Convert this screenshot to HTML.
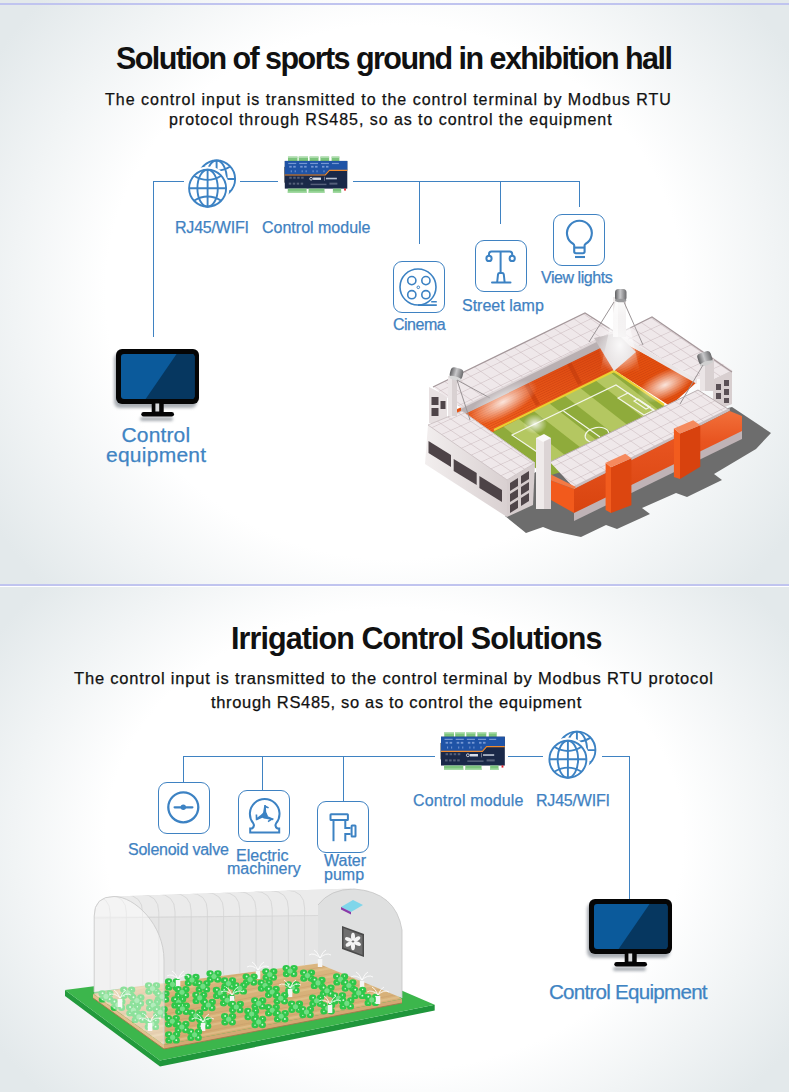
<!DOCTYPE html>
<html><head><meta charset="utf-8">
<style>
html,body{margin:0;padding:0;}
body{width:790px;height:1092px;position:relative;overflow:hidden;background:#fff;font-family:"Liberation Sans",sans-serif;}
.sec{position:absolute;left:0;width:789px;}
#s1{top:0;height:584px;background:radial-gradient(ellipse 60% 75% at 50% 50%,#ffffff 0%,#ffffff 61%,#e3e9eb 100%);}
#s2{top:587px;height:505px;background:radial-gradient(ellipse 60% 75% at 50% 50%,#ffffff 0%,#ffffff 61%,#e3e9eb 100%);}
.hl{position:absolute;left:0;width:789px;height:2px;background:#c0c4ef;}
.t{position:absolute;white-space:nowrap;line-height:1;}
.title{font-weight:700;font-size:30.5px;color:#111;}
.sub{font-size:16px;color:#111;-webkit-text-stroke:0.25px #111;}
.lbl{font-size:16px;color:#3f82c2;-webkit-text-stroke:0.25px #3f82c2;}
.big{font-size:19px;color:#3f84c3;-webkit-text-stroke:0.25px #3f84c3;}
.ln{position:absolute;background:#3f82c2;}
.box{position:absolute;width:50px;height:50px;border:1px solid #3f82c2;border-radius:9px;}
svg{position:absolute;overflow:visible;}
</style></head>
<body>
<div id="s1" class="sec"></div>

<svg width="0" height="0" style="position:absolute">
<defs>
<g id="globe1" fill="none" stroke="#3c82c3" stroke-width="1.9">
  <circle cx="0" cy="0" r="18.5"/>
  <line x1="0" y1="-18.5" x2="0" y2="18.5"/>
  <ellipse cx="0" cy="0" rx="10.2" ry="18.5"/>
  <line x1="-18.5" y1="0" x2="18.5" y2="0"/>
  <path d="M-13.7,-12.5 Q0,-4.2 13.7,-12.5"/>
  <path d="M-13.7,12.5 Q0,4.2 13.7,12.5"/>
</g>
<mask id="gm" maskUnits="userSpaceOnUse" x="-30" y="-40" width="80" height="80">
  <rect x="-30" y="-40" width="80" height="80" fill="#fff"/>
  <circle cx="0" cy="0" r="21.8" fill="#000"/>
</mask>
<g id="globe2">
  <g mask="url(#gm)"><use href="#globe1" transform="translate(9,-9.2)"/></g>
  <use href="#globe1"/>
</g>
<g id="monitor">
  <rect x="0" y="0" width="83" height="55" rx="6" fill="#050505"/>
  <clipPath id="scr"><rect x="5" y="5" width="73.5" height="45" rx="3"/></clipPath>
  <g clip-path="url(#scr)">
    <rect x="0" y="0" width="83" height="55" fill="#0b5a9b"/>
    <polygon points="64,0 90,0 90,55 26.2,55" fill="#063760"/>
  </g>
  <rect x="35.7" y="54" width="12" height="9" fill="#050505"/>
  <rect x="39.4" y="54.5" width="3.8" height="8" fill="#d8dadc"/>
  <rect x="25.3" y="63" width="32.7" height="4.6" rx="2.3" fill="#050505"/>
</g>
<g id="module">
  <!-- top terminals -->
  <g fill="#7cc47c">
    <rect x="3.2" y="-4.4" width="9.6" height="4.6"/>
    <rect x="14" y="-4.4" width="9.4" height="4.6"/>
    <rect x="25" y="-4.4" width="9" height="4.6"/>
    <rect x="35.9" y="-4.4" width="8.8" height="4.6"/>
    <rect x="47.2" y="-4.4" width="7.8" height="4.6"/>
  </g>
  <g fill="#b8e2b8">
    <rect x="3.2" y="-4.4" width="9.6" height="1.3"/>
    <rect x="14" y="-4.4" width="9.4" height="1.3"/>
    <rect x="25" y="-4.4" width="9" height="1.3"/>
    <rect x="35.9" y="-4.4" width="8.8" height="1.3"/>
    <rect x="47.2" y="-4.4" width="7.8" height="1.3"/>
  </g>
  <rect x="-0.8" y="6" width="1.6" height="16" fill="#8a8a8a"/>
  <rect x="0" y="0" width="63" height="28" fill="#1a2848"/>
  <polygon points="0,0 63,0 63,9.2 44.7,9.2 40.5,13.8 0,13.8" fill="#1f53a6"/>
  <polyline points="0,14.2 40.8,14.2 45,9.6 63,9.6" fill="none" stroke="#ee8a2e" stroke-width="1.1"/>
  <g fill="#7f9fd8" opacity="0.9">
    <rect x="3.5" y="2" width="8" height="1.2"/><rect x="14.5" y="2" width="8" height="1.2"/>
    <rect x="25.5" y="2" width="8" height="1.2"/><rect x="36.5" y="2" width="8" height="1.2"/>
    <rect x="47.5" y="2" width="7" height="1.2"/>
    <rect x="4.5" y="5" width="2.5" height="1.8"/><rect x="8.5" y="5" width="2.5" height="1.8"/>
    <rect x="15.5" y="5" width="2.5" height="1.8"/><rect x="19.5" y="5" width="2.5" height="1.8"/>
    <rect x="26.5" y="5" width="2.5" height="1.8"/><rect x="30.5" y="5" width="2.5" height="1.8"/>
    <rect x="37.5" y="5" width="2.5" height="1.8"/><rect x="41.5" y="5" width="2.5" height="1.8"/>
    <rect x="6" y="9.5" width="1" height="2"/><rect x="10" y="9.5" width="1" height="2"/>
    <rect x="17" y="9.5" width="1" height="2"/><rect x="21" y="9.5" width="1" height="2"/>
    <rect x="28" y="9.5" width="1" height="2"/><rect x="32" y="9.5" width="1" height="2"/>
    <rect x="39" y="9.5" width="1" height="2"/>
  </g>
  <g fill="#55607a">
    <rect x="4.5" y="16" width="2.5" height="2"/><rect x="8.5" y="16" width="2.5" height="2"/>
    <rect x="12.5" y="16" width="2.5" height="2"/><rect x="16.5" y="16" width="2.5" height="2"/>
    <rect x="4" y="22" width="2.5" height="2"/><rect x="8" y="22" width="2.5" height="2"/>
    <rect x="12" y="22" width="2.5" height="2"/><rect x="16" y="22" width="2.5" height="2"/>
    <rect x="26" y="23" width="16" height="1.5"/><rect x="45" y="22" width="8" height="2"/>
  </g>
  <circle cx="26.5" cy="18" r="1.4" fill="none" stroke="#e6e9f0" stroke-width="0.8"/>
  <rect x="28.5" y="16.8" width="8" height="2.4" fill="#d8dde8"/>
  <rect x="39.5" y="16" width="0.6" height="4" fill="#aab"/>
  <rect x="41.5" y="17" width="11" height="1.6" fill="#b8c0d0"/>
  <g fill="#7cc47c">
    <rect x="3" y="28" width="19" height="4.3"/>
    <rect x="24" y="28" width="16" height="4.3"/>
    <rect x="48.5" y="28" width="8.3" height="4.3"/>
  </g>
  <g fill="#a6dca6">
    <rect x="3" y="30.8" width="19" height="1.5"/>
    <rect x="24" y="30.8" width="16" height="1.5"/>
    <rect x="48.5" y="30.8" width="8.3" height="1.5"/>
  </g>
  <rect x="59.8" y="27.8" width="1.8" height="2.2" fill="#e0202a"/>
</g>
<filter id="blur2" x="-20%" y="-20%" width="140%" height="140%"><feGaussianBlur stdDeviation="1.8"/></filter>
</defs>
</svg>

<div id="s2" class="sec"></div>
<div class="hl" style="top:3px"></div>
<div class="hl" style="top:584px"></div>

<!-- Section 1 text -->
<div class="t title" id="ti1" style="left:116px;top:43px;letter-spacing:-1.55px">Solution of sports ground in exhibition hall</div>
<div class="t sub" id="su1a" style="left:105px;top:92px;letter-spacing:1.0px">The control input is transmitted to the control terminal by Modbus RTU</div>
<div class="t sub" id="su1b" style="left:169px;top:112px;letter-spacing:0.95px">protocol through RS485, so as to control the equipment</div>

<!-- Section 1 lines -->
<div class="ln" style="left:153px;top:181px;width:31px;height:1px"></div>
<div class="ln" style="left:240px;top:181px;width:38px;height:1px"></div>
<div class="ln" style="left:353px;top:181px;width:227px;height:1px"></div>
<div class="ln" style="left:153px;top:181px;width:1px;height:156px"></div>
<div class="ln" style="left:419px;top:181px;width:1px;height:63px"></div>
<div class="ln" style="left:500px;top:181px;width:1px;height:43px"></div>
<div class="ln" style="left:579px;top:181px;width:1px;height:26px"></div>

<!-- Section 1 labels -->
<div class="t lbl" style="left:175px;top:220px;letter-spacing:-0.2px">RJ45/WIFI</div>
<div class="t lbl" style="left:262px;top:220px">Control module</div>
<div class="t lbl" style="left:393px;top:317px;letter-spacing:-0.5px">Cinema</div>
<div class="t lbl" style="left:462px;top:298px">Street lamp</div>
<div class="t lbl" style="left:541px;top:270px;letter-spacing:-0.45px">View lights</div>
<div class="t big" style="left:121.5px;top:424px;font-size:21px;letter-spacing:0.15px">Control</div>
<div class="t big" style="left:106px;top:444px;font-size:21px;letter-spacing:0.25px">equipment</div>

<!-- Section 1 boxes -->
<div class="box" style="left:393px;top:261px"></div>
<div class="box" style="left:475px;top:240px"></div>
<div class="box" style="left:553px;top:214px"></div>


<!-- globes -->
<svg style="left:0;top:0" width="790" height="1092">
  <use href="#globe2" transform="translate(207.6,188.2)"/>
  <use href="#globe2" transform="translate(567.9,759.3)"/>
  <!-- monitors shadows -->
  <g filter="url(#blur2)" fill="#8e949c" opacity="0.75">
    <rect x="114" y="353" width="83" height="55" rx="6"/>
    <rect x="140" y="417" width="33" height="4" rx="2"/>
    <rect x="587" y="903" width="83" height="55" rx="6"/>
    <rect x="613" y="967" width="33" height="4" rx="2"/>
  </g>
  <use href="#monitor" transform="translate(116,349)"/>
  <use href="#monitor" transform="translate(589,899)"/>
  <use href="#module" transform="translate(284.8,160.9) scale(0.992,0.99)"/>
  <use href="#module" transform="translate(441,736.7) scale(1.013,1.03)"/>
</svg>

<!-- box icons -->
<svg style="left:393px;top:261px" width="52" height="52" fill="none" stroke="#3c82c3">
  <circle cx="25" cy="26" r="18" stroke-width="1.6"/>
  <circle cx="18.8" cy="19.6" r="4.1" stroke-width="1.6"/>
  <circle cx="32.9" cy="19.6" r="4.1" stroke-width="1.6"/>
  <circle cx="18.8" cy="33.7" r="4.1" stroke-width="1.6"/>
  <circle cx="32.9" cy="33.7" r="4.1" stroke-width="1.6"/>
  <circle cx="25.3" cy="26.3" r="1.3" stroke-width="1"/>
  <path d="M38.2,40.8 H43.8 M25,44.1 H43.8" stroke-width="1.6"/>
</svg>
<svg style="left:475px;top:240px" width="52" height="52" fill="none" stroke="#3c82c3" stroke-width="2">
  <path d="M14,15.6 V14 Q14,11.5 16.5,11.5 H34.7 Q37.2,11.5 37.2,14 V15.6"/>
  <circle cx="14" cy="18.4" r="2.6"/>
  <circle cx="37.2" cy="18.4" r="2.6"/>
  <path d="M25.6,11.5 V33"/>
  <path d="M22.2,42 L23,34.5 Q23.2,33 24.6,33 H27.2 Q28.6,33 28.8,34.5 L29.6,42" />
  <path d="M17,42.6 H35.5" stroke-linecap="round"/>
</svg>
<svg style="left:553px;top:214px" width="52" height="52" fill="none" stroke="#3c82c3" stroke-width="2.1">
  <path d="M21.2,37.5 V31.5 Q21.2,30.6 20.4,30 A12.4,12.4 0 1 1 32.4,30 Q31.6,30.6 31.6,31.5 V37.5 Q31.6,39.2 29.9,39.2 H22.9 Q21.2,39.2 21.2,37.5 Z"/>
  <path d="M21.2,33.6 H31.6"/>
  <path d="M22,43 H32"/>
</svg>
<svg style="left:158px;top:782px" width="52" height="52" fill="none" stroke="#3c82c3">
  <circle cx="25.3" cy="25.3" r="15" stroke-width="2.3"/>
  <path d="M16.6,25.3 H34.4" stroke-width="2.2" stroke-linecap="round"/>
  <circle cx="25.3" cy="25.3" r="2.7" fill="#3c82c3" stroke="none"/>
</svg>
<svg style="left:238px;top:790px" width="52" height="52" fill="none" stroke="#3c82c3" stroke-width="2">
  <path d="M15.2,33.2 A14.8,14.8 0 1 1 38.2,33.2 Q36.2,36.4 39.6,38.6 H41.2 V42.4 H12.2 V38.6 H13.8 Q17.2,36.4 15.2,33.2 Z"/>
  <g fill="#3c82c3" stroke="none">
    <path d="M26.3,15 L27.8,15 L28.2,22 L30,26.2 L23.6,26.8 L25.2,22 Z"/>
    <path d="M26.5,15 L31,17.3 L30.2,18.6 L27.4,17.6 Z"/>
    <path d="M24,24 L18,28.4 L18.4,30.4 L26,27 Z"/>
    <path d="M17.6,24.4 L19.2,24.4 L19.6,29.6 L17.8,30.2 Z"/>
    <path d="M27,25 L35.7,28.8 L35,30.3 L26.4,28.4 Z"/>
    <path d="M35.7,28.8 L30.4,32.3 L29.6,31 L33,28.6 Z"/>
    <circle cx="26.4" cy="25.6" r="2.8"/>
  </g>
</svg>
<svg style="left:317px;top:801px" width="52" height="52" fill="none" stroke="#3c82c3" stroke-width="2">
  <rect x="13.5" y="13.2" width="17.4" height="5.9" rx="0.6"/>
  <path d="M16.5,20 V40.2"/>
  <path d="M28.3,20 V27 H33.6 M33.6,32.9 H28.3 V40.2"/>
  <rect x="34.6" y="24.4" width="3.9" height="11.1" rx="0.5"/>
</svg>

<!-- STADIUM -->
<svg style="left:0;top:0" width="790" height="590">
<defs>
  <clipPath id="fieldclip"><polygon points="614,371 700,430 548,476 485,436"/></clipPath>
  <linearGradient id="orgSeat" x1="0" y1="0" x2="0" y2="1">
    <stop offset="0" stop-color="#d8440e"/><stop offset="1" stop-color="#f2621f"/>
  </linearGradient>
  <pattern id="seatlines" width="6" height="2.2" patternUnits="userSpaceOnUse" patternTransform="rotate(-26)">
    <rect width="6" height="2.2" fill="none"/><rect y="1.5" width="6" height="0.6" fill="#b83208" opacity="0.45"/>
  </pattern>
  <linearGradient id="bandFace" x1="0" y1="0" x2="1" y2="0">
    <stop offset="0" stop-color="#e44e14"/><stop offset="1" stop-color="#d2400c"/>
  </linearGradient>
  <linearGradient id="swFace" x1="0" y1="0" x2="1" y2="0">
    <stop offset="0" stop-color="#f2eeee"/><stop offset="1" stop-color="#d9d0d1"/>
  </linearGradient>
  <pattern id="roofgrid" width="10" height="10" patternUnits="userSpaceOnUse" patternTransform="matrix(1,-0.478,1,0.7,0,0)">
    <rect width="10" height="10" fill="#efe8ea"/>
    <path d="M0,0 H10 M0,0 V10" stroke="#c6b4b8" stroke-width="0.8" fill="none"/>
  </pattern>
  <pattern id="roofgrid2" width="10" height="10" patternUnits="userSpaceOnUse" patternTransform="matrix(1,0.68,1,-0.45,0,0)">
    <rect width="10" height="10" fill="#efe8ea"/>
    <path d="M0,0 H10 M0,0 V10" stroke="#c6b4b8" stroke-width="0.8" fill="none"/>
  </pattern>
  <radialGradient id="glow" cx="0.5" cy="0.5" r="0.5">
    <stop offset="0" stop-color="#fff" stop-opacity="0.85"/><stop offset="1" stop-color="#fff" stop-opacity="0"/>
  </radialGradient>
</defs>
<!-- shadow -->
<polygon fill="#6d6d6d" points="505,516 526,533 543,527 553,531 581,537 606,525 617,529 650,514 642,508 676,493 687,497 722,480 714,474 756,449 771,433 732,407 600,440 520,480"/>
<!-- NW seats -->
<polygon fill="url(#orgSeat)" points="455,410 615,336 614,371 500,440 460,418"/>
<polygon fill="url(#seatlines)" points="455,410 615,336 614,371 500,440 460,418"/>
<g fill="#c03a0c" opacity="0.55"><polygon points="523,383 527,381 540,404 536,406"/><polygon points="566,362 570,360 582,383 578,385"/><polygon points="605,343 609,341 618,362 614,364"/></g>
<!-- NE seats -->
<polygon fill="#e4500f" points="615,338 697,382 670,406 614,370"/>
<polygon fill="url(#seatlines)" points="615,338 697,382 670,406 614,370"/>
<!-- field -->
<polygon fill="#8fab3b" points="614,371 700,430 548,476 485,436"/>
<g clip-path="url(#fieldclip)" fill="#b4c761">
<polygon points="440.0,456.0 455.5,448.4 565.5,534.2 550.0,541.8"/>
<polygon points="471.0,440.8 486.5,433.2 596.5,519.0 581.0,526.6"/>
<polygon points="502.0,425.6 517.5,418.0 627.5,503.8 612.0,511.4"/>
<polygon points="533.0,410.4 548.5,402.8 658.5,488.6 643.0,496.2"/>
<polygon points="564.0,395.2 579.5,387.6 689.5,473.4 674.0,481.0"/>
<polygon points="595.0,380.1 610.5,372.5 720.5,458.3 705.0,465.9"/>
<polygon points="626.0,364.9 641.5,357.3 751.5,443.1 736.0,450.7"/>
<polygon points="657.0,349.7 672.5,342.1 782.5,427.9 767.0,435.5"/>
</g>
<g fill="none" stroke="#f4f6ea" stroke-width="1.1">
  <polygon points="512,435 616,385 662,416 558,466"/>
  <path d="M563.5,411 L600,437"/>
  <ellipse cx="597" cy="435" rx="12" ry="7.5" transform="rotate(-10 597 435)"/>
  <polygon points="628,393 654,410 644,415 618,398"/>
  <polygon points="638,399 650,407 646,409 634,401"/>
</g>
<path d="M494,430 L614,371 L664,405" fill="none" stroke="#e9d132" stroke-width="2.2"/>
<!-- under-roof bands -->
<polygon fill="#b9b0b2" points="461,406 615,331 615,341 461,416"/>

<!-- NW building end face -->
<polygon fill="#e7e0e1" points="429,387 447,396 447,423 429,423"/>
<g fill="#4f4549"><rect x="431.5" y="397" width="7" height="8"/><rect x="440.5" y="401" width="5" height="8"/><rect x="431.5" y="408" width="7" height="8"/></g>
<!-- NW roof -->
<polygon fill="url(#roofgrid)" points="433,387 585,313 615,332 461,408"/>
<path d="M433,387 L585,313 L615,332" fill="none" stroke="#a4979a" stroke-width="1.2"/>
<path d="M461,408 L615,332" stroke="#ddd4d6" stroke-width="1.5"/>
<!-- NE building end face -->
<polygon fill="#d8cfd0" points="713,379 732,370 732,404 713,412"/>
<g fill="#5a5055"><rect x="716" y="384" width="5" height="6"/><rect x="724" y="380" width="5" height="6"/><rect x="716" y="393" width="5" height="6"/><rect x="724" y="389" width="5" height="6"/><rect x="724" y="398" width="5" height="5"/></g>
<!-- NE roof -->
<polygon fill="url(#roofgrid2)" points="618,334 652,317.5 732,370 714,379 697,379"/>
<polygon fill="#e9e3e4" points="618,334 697,379 697,384 618,339"/>
<path d="M618,334 L652,317 L732,372" fill="none" stroke="#a4979a" stroke-width="1.2"/>
<!-- SW block -->
<polygon fill="url(#swFace)" points="428,425 507,480 507,517 425,464"/>
<g fill="#4d4347">
  <polygon points="428.5,441 451,455 451,467 428.5,453"/>
  <polygon points="453.7,459 476.7,473 476.7,485 453.7,471"/>
  <polygon points="479.4,476 502,490 502,502 479.4,488"/>
</g>
<polygon fill="#d6cdce" points="507,480 535,463 533,505 507,517"/>
<g fill="#4f4549">
  <polygon points="510,483 518,478 518,486 510,491"/><polygon points="521,476 529,471 529,479 521,484"/>
  <polygon points="510,494 518,489 518,497 510,502"/><polygon points="521,487 529,482 529,490 521,495"/>
  <polygon points="510,505 518,500 518,508 510,513"/><polygon points="521,498 529,493 529,501 521,506"/>
</g>
<polygon fill="url(#roofgrid2)" points="428,425 462,411 535,463 507,480"/>
<path d="M428,425 L462,411 L535,463 L507,480 Z" fill="none" stroke="#cfc5c7" stroke-width="1"/>
<!-- SE stand -->
<defs>
<linearGradient id="bandV" x1="0" y1="0" x2="0" y2="1"><stop offset="0" stop-color="#f2703a"/><stop offset="0.3" stop-color="#e85420"/><stop offset="1" stop-color="#d8440f"/></linearGradient>
</defs>
<polygon fill="#bfb3b6" points="574,512 742,430 742,439 574,521"/>
<polygon fill="url(#roofgrid)" points="550,462 698,390 729.6,410 574,488"/>
<path d="M550,462 L698,390 L729.6,410" fill="none" stroke="#b9aeb0" stroke-width="1"/>
<polygon fill="#c9bec0" points="574,486 729.6,408 729.6,411 574,489.5"/>
<polygon fill="url(#bandV)" points="574,489 729.6,411 742,416 742,431 574,513"/>
<polygon fill="#f25a1c" points="541.8,477 574,489 574,513 540.4,494"/>
<polygon fill="#f47a44" points="541.8,477 549,473.5 576,487 574,489"/>
<!-- crosses -->
<polygon fill="#f25c1e" points="605.6,462.8 611,467.3 611,512.9 605.6,509.9"/>
<polygon fill="#dc4610" points="611,467.3 631.4,458.2 631.4,505.3 611,512.9"/>
<polygon fill="#f58a5e" points="605.6,462.8 625.3,453.7 631.4,458.2 611,467.3"/>
<polygon fill="#f25c1e" points="673.9,428.4 680,433.4 680,479 673.9,477"/>
<polygon fill="#d8420e" points="680,433.4 700.3,425.3 700.3,466.8 680,479"/>
<polygon fill="#f58a5e" points="673.9,428.4 693.2,420.3 700.3,425.3 680,433.4"/>
<!-- poles -->
<rect x="536" y="438" width="15" height="71" fill="#efeaea"/>
<rect x="544" y="438" width="7" height="71" fill="#dcd4d5"/>
<polygon fill="#fbf9f9" points="536,438 544,434 551,438 543,442"/>
<rect x="448" y="376" width="9" height="40" fill="#d9d1d2"/>
<rect x="448" y="376" width="4" height="40" fill="#ebe5e6"/>
<defs><linearGradient id="lampg" x1="0" y1="0" x2="1" y2="0"><stop offset="0" stop-color="#5e5e60"/><stop offset="0.45" stop-color="#c8c8ca"/><stop offset="1" stop-color="#6a6a6c"/></linearGradient></defs>
<g transform="rotate(15 456.5 373.5)"><rect x="450" y="368" width="13" height="11" rx="4" fill="url(#lampg)"/><ellipse cx="456.5" cy="378.5" rx="6.5" ry="2" fill="#d8d8d8"/></g>
<path d="M457,380 L470,420 M457,380 L490,398" stroke="#9a9496" stroke-width="1"/>
<defs><linearGradient id="wedge" x1="0" y1="0" x2="0" y2="1"><stop offset="0" stop-color="#bdb5b7"/><stop offset="1" stop-color="#e8e2e3"/></linearGradient>
<linearGradient id="beam" x1="0" y1="0" x2="0" y2="1"><stop offset="0" stop-color="#fff" stop-opacity="0.9"/><stop offset="1" stop-color="#fff" stop-opacity="0"/></linearGradient></defs>
<polygon fill="url(#wedge)" points="594,338 617,333 636,352 614,371"/>
<rect x="613" y="297" width="13" height="40" fill="#ddd6d7"/>
<rect x="613" y="297" width="5" height="40" fill="#efebeb"/>
<polygon fill="url(#beam)" points="616,300 624,300 640,372 600,372"/>
<rect x="615" y="289" width="11.5" height="12" rx="3.5" fill="url(#lampg)"/><ellipse cx="620.7" cy="300.5" rx="5.7" ry="1.8" fill="#9a9a9c"/>
<path d="M614,302 L589,342 M624,302 L643,345" stroke="#9a9496" stroke-width="1"/>
<rect x="700" y="359" width="14" height="32" fill="#d9d1d2"/>
<rect x="700" y="359" width="5" height="32" fill="#ebe5e6"/>
<g transform="rotate(-18 705 358.5)"><rect x="698" y="352" width="14" height="12" rx="3.5" fill="url(#lampg)"/><ellipse cx="705" cy="363.5" rx="7" ry="2" fill="#d0d0d0"/></g>
<path d="M703,365 L680,404" stroke="#9a9496" stroke-width="1"/>
<!-- glows -->
<ellipse cx="620" cy="345" rx="22" ry="30" fill="url(#glow)"/>
<ellipse cx="503" cy="402" rx="38" ry="15" fill="url(#glow)" transform="rotate(-28 503 402)"/>
<ellipse cx="665" cy="385" rx="30" ry="14" fill="url(#glow)" transform="rotate(-25 665 385)"/>
<ellipse cx="535" cy="424" rx="12" ry="10" fill="url(#glow)"/>
</svg>

<!-- Section 2 text -->
<div class="t title" id="ti2" style="left:231px;top:623px;letter-spacing:-0.93px">Irrigation Control Solutions</div>
<div class="t sub" id="su2a" style="left:74px;top:670px;font-size:16.5px;letter-spacing:0.81px">The control input is transmitted to the control terminal by Modbus RTU protocol</div>
<div class="t sub" id="su2b" style="left:211px;top:694px;font-size:16.5px;letter-spacing:0.66px">through RS485, so as to control the equipment</div>

<!-- Section 2 lines -->
<div class="ln" style="left:183px;top:756px;width:252px;height:1px"></div>
<div class="ln" style="left:508px;top:756px;width:35px;height:1px"></div>
<div class="ln" style="left:602px;top:756px;width:28px;height:1px"></div>
<div class="ln" style="left:183px;top:756px;width:1px;height:26px"></div>
<div class="ln" style="left:262px;top:756px;width:1px;height:34px"></div>
<div class="ln" style="left:343px;top:756px;width:1px;height:45px"></div>
<div class="ln" style="left:629px;top:756px;width:1px;height:143px"></div>

<!-- Section 2 boxes -->
<div class="box" style="left:158px;top:782px"></div>
<div class="box" style="left:238px;top:790px"></div>
<div class="box" style="left:317px;top:801px"></div>

<!-- Section 2 labels -->
<div class="t lbl" style="left:128px;top:842px;letter-spacing:-0.25px">Solenoid valve</div>
<div class="t lbl" style="left:236px;top:848px">Electric</div>
<div class="t lbl" style="left:227px;top:861px">machinery</div>
<div class="t lbl" style="left:324px;top:853px">Water</div>
<div class="t lbl" style="left:324px;top:867px">pump</div>
<div class="t lbl" style="left:413px;top:793px;letter-spacing:0.15px">Control module</div>
<div class="t lbl" style="left:536px;top:793px;letter-spacing:-0.2px">RJ45/WIFI</div>
<div class="t big" style="left:549px;top:981.5px;font-size:20.6px;letter-spacing:-0.75px">Control Equipment</div>

<!-- GREENHOUSE -->
<svg style="left:0;top:0" width="790" height="1092">
<defs>
<radialGradient id="leafg" cx="0.5" cy="0.5" r="0.5"><stop offset="0" stop-color="#7be488"/><stop offset="0.5" stop-color="#2fcb47"/><stop offset="1" stop-color="#1cbd38"/></radialGradient>
<g id="plant" fill="#2ec84a"><ellipse cx="-3.4" cy="-2.6" rx="3.2" ry="2.8"/><ellipse cx="3.4" cy="-2.6" rx="3.2" ry="2.8"/><ellipse cx="-3.2" cy="2.6" rx="3.1" ry="2.8"/><ellipse cx="3.2" cy="2.6" rx="3.1" ry="2.8"/><circle cx="0" cy="0" r="2.2" fill="#72dd84"/><circle cx="-3" cy="-2.8" r="0.8" fill="#d8f8dc"/><circle cx="3.2" cy="2.4" r="0.8" fill="#d8f8dc"/><circle cx="3.4" cy="-3" r="0.6" fill="#d8f8dc"/><circle cx="-3.2" cy="2.8" r="0.6" fill="#d8f8dc"/></g>
<linearGradient id="soilg" x1="0" y1="0" x2="0" y2="1"><stop offset="0" stop-color="#dcb882"/><stop offset="1" stop-color="#d2a96f"/></linearGradient>
<clipPath id="tunclip"><path d="M94,992 L94,916 Q94,896.5 114,896.5 L352,888.5 Q396,890 402,930 L402,998 L318,963.5 Z"/></clipPath>
</defs>
<polygon fill="#229a3c" points="65,990 160,1060.5 160,1066.5 65,996"/>
<polygon fill="#1f963b" points="160,1060.5 434.7,1004.7 434.7,1010.5 160,1066.5"/>
<polygon fill="#3cb64c" points="65,990 322.6,956.5 434.7,1004.7 160,1060.5"/>
<polygon fill="url(#soilg)" points="93,994 164,1045 402,999 331,948"/>
<polygon fill="#e2c08e" points="93,994 164,1045 164,1049 93,998"/>
<polygon fill="#d3a873" points="164,1045 402,999 402,1003 164,1049"/>
<path d="M93,998 L164,1049 L402,1003" fill="none" stroke="#a8764c" stroke-width="0.9"/>
<path d="M161.2,1043.0 L399.2,997.0" stroke="#e6c894" stroke-width="2.0" opacity="0.55"/>
<path d="M158.0,1040.7 L396.0,994.7" stroke="#c49866" stroke-width="0.7" opacity="0.55"/>
<path d="M151.9,1036.3 L389.9,990.3" stroke="#e6c894" stroke-width="2.0" opacity="0.55"/>
<path d="M148.7,1034.0 L386.7,988.0" stroke="#c49866" stroke-width="0.7" opacity="0.55"/>
<path d="M142.7,1029.7 L380.7,983.7" stroke="#e6c894" stroke-width="2.0" opacity="0.55"/>
<path d="M139.5,1027.4 L377.5,981.4" stroke="#c49866" stroke-width="0.7" opacity="0.55"/>
<path d="M133.5,1023.1 L371.5,977.1" stroke="#e6c894" stroke-width="2.0" opacity="0.55"/>
<path d="M130.3,1020.8 L368.3,974.8" stroke="#c49866" stroke-width="0.7" opacity="0.55"/>
<path d="M124.2,1016.4 L362.2,970.4" stroke="#e6c894" stroke-width="2.0" opacity="0.55"/>
<path d="M121.0,1014.1 L359.0,968.1" stroke="#c49866" stroke-width="0.7" opacity="0.55"/>
<path d="M115.0,1009.8 L353.0,963.8" stroke="#e6c894" stroke-width="2.0" opacity="0.55"/>
<path d="M111.8,1007.5 L349.8,961.5" stroke="#c49866" stroke-width="0.7" opacity="0.55"/>
<path d="M105.8,1003.2 L343.8,957.2" stroke="#e6c894" stroke-width="2.0" opacity="0.55"/>
<path d="M102.6,1000.9 L340.6,954.9" stroke="#c49866" stroke-width="0.7" opacity="0.55"/>
<path d="M96.5,996.5 L334.6,950.5" stroke="#e6c894" stroke-width="2.0" opacity="0.55"/>
<path d="M93.4,994.3 L331.4,948.3" stroke="#c49866" stroke-width="0.7" opacity="0.55"/>
<path fill="#e5e5e5" d="M94,992 L94,916 Q94,896.5 114,896.5 L352,888.5 L318,905 L318,963.5 Z"/>
<path fill="#ebebeb" d="M94,916 Q94,896.5 114,896.5 L352,888.5 Q330,889 318,905 L318,916 Z"/>
<g clip-path="url(#tunclip)" fill="none" stroke="#d3d3d3" stroke-width="0.8">
<path d="M110.2,993.0 V913.5 Q110.2,896.0 92.2,895.5"/>
<path d="M126.4,993.0 V913.1 Q126.4,895.6 108.4,895.1"/>
<path d="M142.6,992.5 V912.6 Q142.6,895.1 124.6,894.6"/>
<path d="M158.8,989.9 V912.2 Q158.8,894.7 140.8,894.2"/>
<path d="M175.0,987.2 V911.8 Q175.0,894.2 157.0,893.8"/>
<path d="M191.2,984.5 V911.3 Q191.2,893.8 173.2,893.3"/>
<path d="M207.4,981.8 V910.9 Q207.4,893.4 189.4,892.9"/>
<path d="M223.6,979.2 V910.4 Q223.6,892.9 205.6,892.4"/>
<path d="M239.8,976.5 V910.0 Q239.8,892.5 221.8,892.0"/>
<path d="M256.0,973.8 V909.5 Q256.0,892.0 238.0,891.5"/>
<path d="M272.2,971.1 V909.0 Q272.2,891.5 254.2,891.0"/>
<path d="M288.4,968.5 V908.6 Q288.4,891.1 270.4,890.6"/>
<path d="M304.6,965.8 V908.1 Q304.6,890.6 286.6,890.1"/>
<path d="M94,918 L318,915.5"/>
</g>
<path fill="#dfe0e0" d="M318,963.5 L318,905 Q330,889 354,889 Q396,892 402,930 L402,998 Z"/>
<path d="M318,905 Q330,889 354,889 Q396,892 402,930 L402,998" fill="none" stroke="#c4c4c4" stroke-width="0.8"/>
<polygon fill="#4a4a4a" points="342,926 364,934 364,957 342,949"/>
<polygon fill="#6e6e6e" points="343.5,928 362.5,935.5 362.5,955 343.5,947.5"/>
<g fill="#f4f4f4" transform="translate(353,941.5)"><ellipse cx="0" cy="-4.8" rx="2" ry="4"/><ellipse cx="0" cy="4.8" rx="2" ry="4"/><ellipse cx="-4.4" cy="-2" rx="3.8" ry="2" transform="rotate(25 -4.4 -2)"/><ellipse cx="4.4" cy="2" rx="3.8" ry="2" transform="rotate(25 4.4 2)"/><ellipse cx="-4" cy="2.6" rx="3.6" ry="2" transform="rotate(-30 -4 2.6)"/><ellipse cx="4" cy="-2.6" rx="3.6" ry="2" transform="rotate(-30 4 -2.6)"/></g>
<polygon fill="#7fd6ea" points="341,907 353,900 363,905 351,912"/>
<polygon fill="#8a3aa8" points="341,907 351,912 351,914.5 341,909.5"/>
<g><path d="M320.0,958.0 q-6,-6 -11,-3 M320.0,958.0 q6,-6 11,-3 M320.0,958.0 q-3,-7 -6,-8 M320.0,958.0 q3,-7 6,-8" stroke="#fff" stroke-width="0.9" fill="none" opacity="0.9"/><rect x="317.8" y="959.0" width="4.5" height="8" fill="#f5f5f5"/></g>
<use href="#plant" transform="translate(290.1,971.1) scale(1.15)"/>
<use href="#plant" transform="translate(269.8,974.5) scale(1.15)"/>
<use href="#plant" transform="translate(214.0,976.5) scale(1.15)"/>
<use href="#plant" transform="translate(307.5,975.6) scale(1.15)"/>
<g><path d="M258.0,970.0 q-6,-6 -11,-3 M258.0,970.0 q6,-6 11,-3 M258.0,970.0 q-3,-7 -6,-8 M258.0,970.0 q3,-7 6,-8" stroke="#fff" stroke-width="0.9" fill="none" opacity="0.9"/><rect x="255.8" y="971.0" width="4.5" height="8" fill="#f5f5f5"/></g>
<use href="#plant" transform="translate(250.1,979.6) scale(1.15)"/>
<use href="#plant" transform="translate(340.6,979.4) scale(1.15)"/>
<use href="#plant" transform="translate(192.0,980.0) scale(1.15)"/>
<use href="#plant" transform="translate(228.5,983.5) scale(1.15)"/>
<use href="#plant" transform="translate(318.0,982.9) scale(1.15)"/>
<use href="#plant" transform="translate(172.5,984.4) scale(1.15)"/>
<use href="#plant" transform="translate(265.1,985.6) scale(1.15)"/>
<use href="#plant" transform="translate(348.9,985.5) scale(1.15)"/>
<use href="#plant" transform="translate(202.9,986.4) scale(1.15)"/>
<g><path d="M178.0,979.0 q-6,-6 -11,-3 M178.0,979.0 q6,-6 11,-3 M178.0,979.0 q-3,-7 -6,-8 M178.0,979.0 q3,-7 6,-8" stroke="#fff" stroke-width="0.9" fill="none" opacity="0.9"/><rect x="175.8" y="980.0" width="4.5" height="8" fill="#f5f5f5"/></g>
<use href="#plant" transform="translate(292.4,987.5) scale(1.15)"/>
<g><path d="M362.0,980.0 q-6,-6 -11,-3 M362.0,980.0 q6,-6 11,-3 M362.0,980.0 q-3,-7 -6,-8 M362.0,980.0 q3,-7 6,-8" stroke="#fff" stroke-width="0.9" fill="none" opacity="0.9"/><rect x="359.8" y="981.0" width="4.5" height="8" fill="#f5f5f5"/></g>
<use href="#plant" transform="translate(152.5,988.5) scale(1.15)"/>
<use href="#plant" transform="translate(239.8,988.4) scale(1.15)"/>
<use href="#plant" transform="translate(327.0,990.7) scale(1.15)"/>
<use href="#plant" transform="translate(182.0,992.3) scale(1.15)"/>
<use href="#plant" transform="translate(272.2,992.0) scale(1.15)"/>
<use href="#plant" transform="translate(127.7,992.8) scale(1.15)"/>
<use href="#plant" transform="translate(220.3,992.9) scale(1.15)"/>
<use href="#plant" transform="translate(358.7,992.9) scale(1.15)"/>
<use href="#plant" transform="translate(162.0,996.6) scale(1.15)"/>
<g><path d="M290.0,988.0 q-6,-6 -11,-3 M290.0,988.0 q6,-6 11,-3 M290.0,988.0 q-3,-7 -6,-8 M290.0,988.0 q3,-7 6,-8" stroke="#fff" stroke-width="0.9" fill="none" opacity="0.9"/><rect x="287.8" y="989.0" width="4.5" height="8" fill="#f5f5f5"/></g>
<use href="#plant" transform="translate(106.0,996.4) scale(1.15)"/>
<use href="#plant" transform="translate(199.8,997.9) scale(1.15)"/>
<use href="#plant" transform="translate(338.5,998.4) scale(1.15)"/>
<use href="#plant" transform="translate(280.8,998.2) scale(1.15)"/>
<use href="#plant" transform="translate(136.9,1000.5) scale(1.15)"/>
<use href="#plant" transform="translate(371.8,999.9) scale(1.15)"/>
<use href="#plant" transform="translate(227.2,1000.2) scale(1.15)"/>
<use href="#plant" transform="translate(178.6,1002.4) scale(1.15)"/>
<use href="#plant" transform="translate(316.6,1000.8) scale(1.15)"/>
<use href="#plant" transform="translate(258.7,1003.4) scale(1.15)"/>
<g><path d="M232.0,995.0 q-6,-6 -11,-3 M232.0,995.0 q6,-6 11,-3 M232.0,995.0 q-3,-7 -6,-8 M232.0,995.0 q3,-7 6,-8" stroke="#fff" stroke-width="0.9" fill="none" opacity="0.9"/><rect x="229.8" y="996.0" width="4.5" height="8" fill="#f5f5f5"/></g>
<g><path d="M378.0,995.0 q-6,-6 -11,-3 M378.0,995.0 q6,-6 11,-3 M378.0,995.0 q-3,-7 -6,-8 M378.0,995.0 q3,-7 6,-8" stroke="#fff" stroke-width="0.9" fill="none" opacity="0.9"/><rect x="375.8" y="996.0" width="4.5" height="8" fill="#f5f5f5"/></g>
<use href="#plant" transform="translate(117.9,1004.7) scale(1.15)"/>
<use href="#plant" transform="translate(346.8,1003.4) scale(1.15)"/>
<use href="#plant" transform="translate(208.3,1005.0) scale(1.15)"/>
<use href="#plant" transform="translate(153.3,1005.3) scale(1.15)"/>
<use href="#plant" transform="translate(295.5,1006.8) scale(1.15)"/>
<g><path d="M120.0,998.0 q-6,-6 -11,-3 M120.0,998.0 q6,-6 11,-3 M120.0,998.0 q-3,-7 -6,-8 M120.0,998.0 q3,-7 6,-8" stroke="#fff" stroke-width="0.9" fill="none" opacity="0.9"/><rect x="117.8" y="999.0" width="4.5" height="8" fill="#f5f5f5"/></g>
<use href="#plant" transform="translate(236.3,1007.0) scale(1.15)"/>
<use href="#plant" transform="translate(327.6,1008.3) scale(1.15)"/>
<use href="#plant" transform="translate(182.4,1008.8) scale(1.15)"/>
<use href="#plant" transform="translate(133.5,1010.2) scale(1.15)"/>
<use href="#plant" transform="translate(272.3,1010.3) scale(1.15)"/>
<g><path d="M330.0,1004.0 q-6,-6 -11,-3 M330.0,1004.0 q6,-6 11,-3 M330.0,1004.0 q-3,-7 -6,-8 M330.0,1004.0 q3,-7 6,-8" stroke="#fff" stroke-width="0.9" fill="none" opacity="0.9"/><rect x="327.8" y="1005.0" width="4.5" height="8" fill="#f5f5f5"/></g>
<use href="#plant" transform="translate(306.5,1012.1) scale(1.15)"/>
<use href="#plant" transform="translate(160.2,1012.3) scale(1.15)"/>
<use href="#plant" transform="translate(251.7,1014.0) scale(1.15)"/>
<use href="#plant" transform="translate(195.8,1015.8) scale(1.15)"/>
<use href="#plant" transform="translate(281.2,1016.2) scale(1.15)"/>
<use href="#plant" transform="translate(138.9,1016.9) scale(1.15)"/>
<use href="#plant" transform="translate(228.6,1019.2) scale(1.15)"/>
<use href="#plant" transform="translate(172.3,1021.2) scale(1.15)"/>
<use href="#plant" transform="translate(258.7,1022.0) scale(1.15)"/>
<use href="#plant" transform="translate(204.1,1022.9) scale(1.15)"/>
<use href="#plant" transform="translate(151.9,1023.9) scale(1.15)"/>
<use href="#plant" transform="translate(181.9,1027.0) scale(1.15)"/>
<g><path d="M150.0,1022.0 q-6,-6 -11,-3 M150.0,1022.0 q6,-6 11,-3 M150.0,1022.0 q-3,-7 -6,-8 M150.0,1022.0 q3,-7 6,-8" stroke="#fff" stroke-width="0.9" fill="none" opacity="0.9"/><rect x="147.8" y="1023.0" width="4.5" height="8" fill="#f5f5f5"/></g>
<g><path d="M203.0,1022.0 q-6,-6 -11,-3 M203.0,1022.0 q6,-6 11,-3 M203.0,1022.0 q-3,-7 -6,-8 M203.0,1022.0 q3,-7 6,-8" stroke="#fff" stroke-width="0.9" fill="none" opacity="0.9"/><rect x="200.8" y="1023.0" width="4.5" height="8" fill="#f5f5f5"/></g>
<use href="#plant" transform="translate(194.6,1034.7) scale(1.15)"/>
<use href="#plant" transform="translate(172.6,1037.4) scale(1.15)"/>
<path fill="#ffffff" opacity="0.45" d="M94.2,994 V916 Q94.2,896.5 114,896.5 C135,896.5 164,925 164,960 V1045 Z"/>
<path d="M94.2,992 V916 Q94.2,896.5 114,896.5 C135,896.5 164,925 164,960 V1044" fill="none" stroke="#cfcfcf" stroke-width="1"/>
</svg>
</body></html>
